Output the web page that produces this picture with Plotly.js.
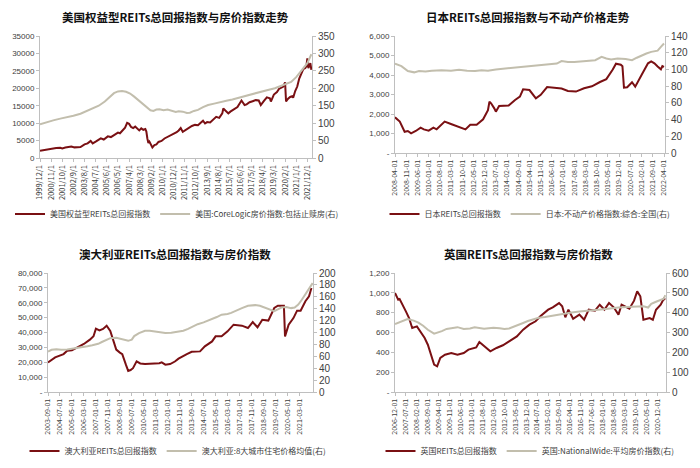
<!DOCTYPE html>
<html><head><meta charset="utf-8">
<script src="https://cdn.plot.ly/plotly-3.0.1.min.js"></script>
<style>html,body{margin:0;padding:0;background:#fff}#c{width:700px;height:468px}</style>
</head><body><div id="c"></div>
<script>
// ---------- Panel 1: US ----------
const usReitDates = ['1999-12-01','2000-04-01','2000-08-01','2000-12-01','2001-04-01','2001-08-01','2001-10-01','2002-01-01','2002-04-01','2002-07-01','2002-10-01','2003-01-01','2003-04-01','2003-08-01','2003-11-01','2004-02-01','2004-04-01','2004-07-01','2004-10-01','2004-12-01','2005-03-01','2005-07-01','2005-10-01','2006-01-01','2006-05-01','2006-07-01','2006-10-01','2006-12-01','2007-02-01','2007-04-01','2007-06-01','2007-08-01','2007-10-01','2007-12-01','2008-02-01','2008-04-01','2008-06-01','2008-08-01','2008-09-01','2008-10-01','2008-11-01','2008-12-01','2009-02-01','2009-03-01','2009-05-01','2009-07-01','2009-09-01','2009-12-01','2010-03-01','2010-05-01','2010-07-01','2010-09-01','2010-12-01','2011-03-01','2011-05-01','2011-07-01','2011-09-01','2011-12-01','2012-03-01','2012-06-01','2012-09-01','2012-12-01','2013-03-01','2013-05-01','2013-07-01','2013-09-01','2013-12-01','2014-03-01','2014-06-01','2014-09-01','2014-12-01','2015-01-01','2015-04-01','2015-06-01','2015-08-01','2015-10-01','2015-12-01','2016-03-01','2016-07-01','2016-10-01','2016-12-01','2017-03-01','2017-06-01','2017-09-01','2017-12-01','2018-02-01','2018-05-01','2018-08-01','2018-11-01','2018-12-01','2019-03-01','2019-06-01','2019-08-01','2019-10-01','2019-12-01','2020-02-01','2020-03-01','2020-05-01','2020-07-01','2020-09-01','2020-10-01','2020-12-01','2021-02-01','2021-04-01','2021-06-01','2021-08-01','2021-10-01','2021-11-01','2021-12-01','2022-01-01','2022-02-01','2022-03-01','2022-04-01'];
const usReit = [2100,2300,2600,2650,2850,2950,2750,3000,3200,3300,3050,3000,3150,3900,4200,4900,4200,4700,5300,5650,5300,6200,6000,6600,7300,7100,8000,8700,10100,9800,8900,8600,9000,8300,7900,8500,8100,8300,7600,5600,4300,4700,3500,3000,3700,3900,4600,4900,5600,5900,6100,6500,6900,7400,7900,8600,7500,8100,8700,9200,9500,9400,10200,10700,9900,10300,10200,11000,11800,11500,12800,14200,13200,12800,13300,13700,14000,14600,16500,15200,15400,16000,16300,16600,16500,15200,16300,17400,17100,16200,18200,18900,19800,20200,20400,21700,16200,17000,17500,17700,17300,19200,20500,22800,24200,25500,25800,26300,28600,25800,26500,27200,25300];
const usHpiDates = ['1999-12-01','2000-06-01','2001-01-01','2001-08-01','2002-03-01','2002-09-01','2003-04-01','2003-10-01','2004-04-01','2004-10-01','2005-04-01','2005-09-01','2006-01-01','2006-05-01','2006-09-01','2007-01-01','2007-05-01','2007-09-01','2008-01-01','2008-05-01','2008-09-01','2009-01-01','2009-04-01','2009-07-01','2009-10-01','2010-02-01','2010-06-01','2010-10-01','2011-02-01','2011-05-01','2011-09-01','2012-01-01','2012-04-01','2012-08-01','2012-12-01','2013-05-01','2013-10-01','2014-04-01','2014-10-01','2015-04-01','2015-10-01','2016-04-01','2016-10-01','2017-04-01','2017-10-01','2018-04-01','2018-10-01','2019-04-01','2019-10-01','2020-02-01','2020-08-01','2021-01-01','2021-06-01','2021-12-01','2022-04-01'];
const usHpi = [97,103,108,113,117,121,127,134,141,150,162,174,186,191,192,190,185,176,166,155,145,137,135,139,140,137,139,136,132,134,133,129,130,135,138,146,152,156,159,164,168,173,177,182,187,192,196,200,206,211,218,232,250,272,298];
const usTickVals = ['1999-12-01','2000-11-01','2001-10-01','2002-09-01','2003-08-01','2004-07-01','2005-06-01','2006-05-01','2007-04-01','2008-03-01','2009-02-01','2010-01-01','2010-12-01','2011-11-01','2012-10-01','2013-09-01','2014-08-01','2015-07-01','2016-06-01','2017-05-01','2018-04-01','2019-03-01','2020-02-01','2021-01-01','2021-12-01'];
const usTickText = ['1999/12/1','2000/11/1','2001/10/1','2002/9/1','2003/8/1','2004/7/1','2005/6/1','2006/5/1','2007/4/1','2008/3/1','2009/2/1','2010/1/1','2010/12/1','2011/11/1','2012/10/1','2013/9/1','2014/8/1','2015/7/1','2016/6/1','2017/5/1','2018/4/1','2019/3/1','2020/2/1','2021/1/1','2021/12/1'];
const usLeftTicks = [0,5000,10000,15000,20000,25000,30000,35000];
const usLeftText = ['0','5000','10000','15000','20000','25000','30000','35000'];
const usRightTicks = [0,50,100,150,200,250,300,350];

// ---------- Panel 2: Japan ----------
const jpReitDates = ['2008-04-01','2008-07-01','2008-10-01','2008-12-01','2009-02-01','2009-05-01','2009-08-01','2009-10-01','2010-01-01','2010-04-01','2010-06-01','2010-11-01','2011-03-01','2011-08-01','2011-12-01','2012-03-01','2012-07-01','2012-11-01','2013-02-01','2013-03-01','2013-04-01','2013-06-01','2013-07-01','2013-09-01','2014-03-01','2014-07-01','2014-10-01','2014-12-01','2015-04-01','2015-08-01','2015-11-01','2016-03-01','2016-08-01','2016-12-01','2017-04-01','2017-09-01','2018-02-01','2018-07-01','2018-12-01','2019-04-01','2019-08-01','2019-10-01','2020-01-01','2020-02-01','2020-03-01','2020-05-01','2020-08-01','2020-10-01','2021-02-01','2021-06-01','2021-08-01','2021-10-01','2021-12-01','2022-02-01','2022-03-01','2022-04-01'];
const jpReit = [1830,1610,1090,1130,1010,1130,1300,1210,1145,1300,1215,1610,1490,1350,1210,1450,1450,1730,2200,2630,2550,2290,2120,2410,2430,2720,2890,3270,3230,2800,2980,3380,3320,3310,3180,3150,3320,3420,3640,3790,4280,4580,4530,4450,3350,3370,3630,3400,4010,4600,4700,4600,4440,4290,4460,4420];
const jpHpiDates = ['2008-04-01','2008-08-01','2008-12-01','2009-04-01','2009-07-01','2009-11-01','2010-03-01','2010-09-01','2011-03-01','2011-08-01','2012-01-01','2012-06-01','2012-10-01','2013-02-01','2013-07-01','2014-01-01','2014-07-01','2015-01-01','2015-06-01','2015-10-01','2016-03-01','2016-06-01','2016-09-01','2016-12-01','2017-04-01','2017-08-01','2018-01-01','2018-05-01','2018-09-01','2019-01-01','2019-04-01','2019-07-01','2019-11-01','2020-04-01','2020-08-01','2020-11-01','2021-02-01','2021-05-01','2021-08-01','2021-12-01','2022-02-01','2022-04-01'];
const jpHpi = [107,104,98,96.5,98,97.5,98.5,99,98.5,99.5,98.5,98,99,98.5,100,101,102,103,104,105,105.5,106.5,107,110,109,109,110,110.5,111,115,113,112,113,112.5,111,114,117,119,121,122.5,127,131];
const jpTickVals = ['2008-04-01','2008-11-01','2009-06-01','2010-01-01','2010-08-01','2011-03-01','2011-10-01','2012-05-01','2012-12-01','2013-07-01','2014-02-01','2014-09-01','2015-04-01','2015-11-01','2016-06-01','2017-01-01','2017-08-01','2018-03-01','2018-10-01','2019-05-01','2019-12-01','2020-07-01','2021-02-01','2021-09-01','2022-04-01'];
const jpLeftTicks = [0,1000,2000,3000,4000,5000,6000];
const jpLeftText = ['-','1,000','2,000','3,000','4,000','5,000','6,000'];
const jpRightTicks = [0,20,40,60,80,100,120,140];

// ---------- Panel 3: Australia ----------
const auReitDates = ['2003-09-01','2004-03-01','2004-10-01','2005-01-01','2005-05-01','2005-11-01','2006-03-01','2006-08-01','2006-11-01','2007-01-01','2007-04-01','2007-07-01','2007-10-01','2008-01-01','2008-04-01','2008-06-01','2008-09-01','2008-11-01','2009-02-01','2009-04-01','2009-06-01','2009-08-01','2009-11-01','2010-02-01','2010-06-01','2010-10-01','2011-03-01','2011-06-01','2011-08-01','2011-11-01','2012-03-01','2012-07-01','2012-10-01','2013-02-01','2013-05-01','2013-09-01','2013-12-01','2014-04-01','2014-08-01','2015-02-01','2015-05-01','2015-10-01','2016-03-01','2016-08-01','2017-03-01','2017-08-01','2017-12-01','2018-04-01','2018-08-01','2019-01-01','2019-06-01','2019-09-01','2020-02-01','2020-03-01','2020-06-01','2020-10-01','2021-01-01','2021-04-01','2021-08-01','2021-11-01','2022-01-01'];
const auReit = [19900,23300,25500,27800,28000,30700,32300,35200,37500,42600,41450,42350,44600,41000,34000,28500,26500,25500,18400,14200,14800,16000,20600,19200,18800,18900,19500,19300,19900,18400,18800,20500,22400,24500,25500,27000,27300,27300,30700,34000,37400,37400,40800,45250,44600,43000,47000,43500,48600,48000,56500,58000,58000,37400,45200,49700,54700,54700,61000,64300,69900];
const auHpiDates = ['2003-09-01','2003-12-01','2004-04-01','2004-08-01','2005-01-01','2005-05-01','2005-09-01','2006-01-01','2006-06-01','2006-10-01','2007-03-01','2007-06-01','2007-10-01','2008-01-01','2008-06-01','2008-10-01','2009-01-01','2009-04-01','2009-07-01','2009-09-01','2010-01-01','2010-06-01','2010-10-01','2011-02-01','2011-06-01','2011-11-01','2012-04-01','2012-10-01','2013-02-01','2013-06-01','2013-10-01','2014-02-01','2014-07-01','2015-02-01','2015-06-01','2015-10-01','2016-03-01','2016-06-01','2016-10-01','2017-03-01','2017-08-01','2018-02-01','2018-06-01','2018-10-01','2019-02-01','2019-06-01','2019-09-01','2019-12-01','2020-04-01','2020-08-01','2020-11-01','2021-02-01','2021-05-01','2021-08-01','2021-11-01','2022-02-01'];
const auHpi = [68,71,72,71,71.5,72.5,73.5,75,77,78.5,81,84,88,90.5,91,89,87.5,86,88,94,99,103,103,102,101,99,99.5,101,103,106,110,114,117,122,126,130,131,133,136,141,145,146,145,142,138,136,139,142,143,141,142,147,155,164,175,183];
const auTickVals = ['2003-09-01','2004-07-01','2005-05-01','2006-03-01','2007-01-01','2007-11-01','2008-09-01','2009-07-01','2010-05-01','2011-03-01','2012-01-01','2012-11-01','2013-09-01','2014-07-01','2015-05-01','2016-03-01','2017-01-01','2017-11-01','2018-09-01','2019-07-01','2020-05-01','2021-03-01'];
const auLeftTicks = [0,10000,20000,30000,40000,50000,60000,70000,80000];
const auLeftText = ['-','10,000','20,000','30,000','40,000','50,000','60,000','70,000','80,000'];
const auRightTicks = [0,20,40,60,80,100,120,140,160,180,200];

// ---------- Panel 4: UK ----------
const ukReitDates = ['2006-12-01','2007-02-01','2007-03-01','2007-05-01','2007-07-01','2007-09-01','2007-11-01','2008-02-01','2008-05-01','2008-07-01','2008-09-01','2008-11-01','2009-01-01','2009-03-01','2009-05-01','2009-08-01','2009-12-01','2010-04-01','2010-08-01','2010-11-01','2011-04-01','2011-06-01','2011-09-01','2012-01-01','2012-05-01','2012-09-01','2013-01-01','2013-06-01','2013-10-01','2014-02-01','2014-06-01','2014-09-01','2015-02-01','2015-05-01','2015-09-01','2015-11-01','2016-01-01','2016-03-01','2016-06-01','2016-10-01','2017-01-01','2017-04-01','2017-08-01','2017-11-01','2018-02-01','2018-05-01','2018-08-01','2018-11-01','2019-01-01','2019-06-01','2019-09-01','2019-11-01','2020-01-01','2020-03-01','2020-07-01','2020-09-01','2020-11-01','2021-02-01','2021-04-01','2021-05-01'];
const ukReit = [998,931,938,880,813,746,645,662,595,544,477,376,276,259,343,376,393,376,393,427,450,504,460,410,444,471,511,561,629,679,713,763,830,854,897,864,753,830,739,780,729,830,820,880,830,897,854,780,880,840,921,1015,965,729,746,729,830,880,941,931];
const ukHpiDates = ['2006-12-01','2007-04-01','2007-08-01','2007-12-01','2008-03-01','2008-06-01','2008-09-01','2009-01-01','2009-03-01','2009-06-01','2009-09-01','2010-01-01','2010-04-01','2010-08-01','2010-12-01','2011-03-01','2011-06-01','2011-09-01','2011-12-01','2012-03-01','2012-07-01','2012-10-01','2013-01-01','2013-04-01','2013-07-01','2013-10-01','2014-01-01','2014-05-01','2014-08-01','2014-12-01','2015-04-01','2015-09-01','2016-01-01','2016-05-01','2016-10-01','2017-02-01','2017-06-01','2017-10-01','2018-03-01','2018-07-01','2018-11-01','2019-04-01','2019-08-01','2019-12-01','2020-03-01','2020-06-01','2020-08-01','2020-11-01','2021-02-01','2021-04-01','2021-05-01'];
const ukHpi = [343,356,368,360,350,334,314,294,298,307,318,322,327,318,320,326,321,319,322,324,321,318,320,328,338,348,358,368,374,378,384,390,396,401,406,410,414,415,419,424,426,429,430,429,432,426,445,455,462,470,488];
const ukTickVals = ['2006-12-01','2007-07-01','2008-02-01','2008-09-01','2009-04-01','2009-11-01','2010-06-01','2011-01-01','2011-08-01','2012-03-01','2012-10-01','2013-05-01','2013-12-01','2014-07-01','2015-02-01','2015-09-01','2016-04-01','2016-11-01','2017-06-01','2018-01-01','2018-08-01','2019-03-01','2019-10-01','2020-05-01','2020-12-01'];
const ukLeftTicks = [0,200,400,600,800,1000,1200];
const ukLeftText = ['-','200','400','600','800','1,000','1,200'];
const ukRightTicks = [0,100,200,300,400,500,600];

const titles = ['美国权益型REITs总回报指数与房价指数走势','日本REITs总回报指数与不动产价格走势','澳大利亚REITs总回报指数与房价指数','英国REITs总回报指数与房价指数'];
const names = [
  ['美国权益型REITs总回报指数','美国:CoreLogic房价指数:包括止赎房(右)'],
  ['日本REITs总回报指数','日本:不动产价格指数:综合:全国(右)'],
  ['澳大利亚REITs总回报指数','澳大利亚:8大城市住宅价格均值(右)'],
  ['英国REITs总回报指数','英国:NationalWide:平均房价指数(右)']
];

const RED = '#7A1013', GRAY = '#C2BEAD';
const FONT = '"Noto Sans CJK SC", "Noto Sans", sans-serif';
const W = 700, H = 468;
const px = v => v / W, py = v => 1 - v / H;
const AX = '#BFBFBF', TXT = '#404040';

const panels = [
  {rd: usReitDates, r: usReit, hd: usHpiDates, h: usHpi, tv: usTickVals, tt: usTickText, range: ['1999-12-01','2022-04-20'],
   lt: usLeftTicks, ltt: usLeftText, lmax: 35000, rt: usRightTicks, rmax: 350, x0: 40, x1: 312, y0: 36, y1: 158, title: [175, 17], leg: [177, 214]},
  {rd: jpReitDates, r: jpReit, hd: jpHpiDates, h: jpHpi, tv: jpTickVals, tt: jpTickVals, range: ['2008-04-01','2022-04-20'],
   lt: jpLeftTicks, ltt: jpLeftText, lmax: 6000, rt: jpRightTicks, rmax: 140, x0: 395, x1: 665, y0: 36, y1: 153, title: [528, 17], leg: [530, 214]},
  {rd: auReitDates, r: auReit, hd: auHpiDates, h: auHpi, tv: auTickVals, tt: auTickVals, range: ['2003-09-01','2022-02-10'],
   lt: auLeftTicks, ltt: auLeftText, lmax: 80000, rt: auRightTicks, rmax: 200, x0: 48, x1: 313, y0: 273, y1: 392, title: [175, 254], leg: [178, 451]},
  {rd: ukReitDates, r: ukReit, hd: ukHpiDates, h: ukHpi, tv: ukTickVals, tt: ukTickVals, range: ['2006-12-01','2021-05-15'],
   lt: ukLeftTicks, ltt: ukLeftText, lmax: 1200, rt: ukRightTicks, rmax: 600, x0: 395, x1: 666, y0: 273, y1: 392, title: [528, 254], leg: [530, 451]}
];

const data = [];
const layout = {
  width: W, height: H, margin: {l: 0, r: 0, t: 0, b: 0},
  paper_bgcolor: '#fff', plot_bgcolor: '#fff', showlegend: true,
  font: {family: FONT, size: 8, color: TXT},
  annotations: []
};

panels.forEach((p, i) => {
  const n = i + 1;
  const xs = n === 1 ? '' : String(n);
  const yl = 2 * i + 1, yr = 2 * i + 2;
  const ylS = yl === 1 ? '' : String(yl);
  const legKey = n === 1 ? 'legend' : 'legend' + n;
  data.push({x: p.rd, y: p.r, type: 'scatter', mode: 'lines', name: names[i][0],
    xaxis: 'x' + xs, yaxis: 'y' + ylS, line: {color: RED, width: 2}, legend: legKey});
  data.push({x: p.hd, y: p.h, type: 'scatter', mode: 'lines', name: names[i][1],
    xaxis: 'x' + xs, yaxis: 'y' + yr, line: {color: GRAY, width: 2}, legend: legKey});

  layout['xaxis' + xs] = {
    type: 'date', domain: [px(p.x0), px(p.x1)], range: p.range, anchor: 'y' + ylS,
    tickmode: 'array', tickvals: p.tv, ticktext: p.tt, tickangle: -90,
    tickfont: {size: n === 1 ? 7.5 : 7, color: TXT, family: FONT},
    showline: true, linecolor: AX, linewidth: 1, ticks: 'outside', ticklen: 3, tickcolor: AX,
    showgrid: false, zeroline: false, fixedrange: true
  };
  layout['yaxis' + ylS] = {
    domain: [py(p.y1), py(p.y0)], range: [0, p.lmax], anchor: 'x' + xs,
    tickmode: 'array', tickvals: p.lt, ticktext: p.ltt,
    tickfont: {size: 8, color: TXT, family: 'Liberation Sans, Arial, sans-serif'},
    showline: true, linecolor: AX, ticks: 'outside', ticklen: 3, tickcolor: AX,
    showgrid: false, zeroline: false, fixedrange: true
  };
  layout['yaxis' + yr] = {
    overlaying: 'y' + ylS, side: 'right', anchor: 'x' + xs, range: [0, p.rmax],
    tickmode: 'array', tickvals: p.rt,
    tickfont: {size: 10, color: TXT, family: 'Liberation Sans, Arial, sans-serif'},
    showline: true, linecolor: AX, ticks: 'outside', ticklen: 3, tickcolor: AX,
    showgrid: false, zeroline: false, fixedrange: true
  };
  layout[legKey] = {
    orientation: 'h', x: px(p.leg[0]), y: py(p.leg[1]), xanchor: 'center', yanchor: 'middle',
    font: {size: 8, color: TXT, family: FONT}, bgcolor: 'rgba(0,0,0,0)', itemwidth: 30,
    traceorder: 'normal', tracegroupgap: 0
  };
  layout.annotations.push({
    text: '<b>' + titles[i] + '</b>', xref: 'paper', yref: 'paper',
    x: px(p.title[0]), y: py(p.title[1]), xanchor: 'center', yanchor: 'middle',
    showarrow: false, font: {size: 11.5, color: '#111', family: FONT}
  });
});

Plotly.newPlot('c', data, layout, {displayModeBar: false, staticPlot: true});
</script>
</body></html>
